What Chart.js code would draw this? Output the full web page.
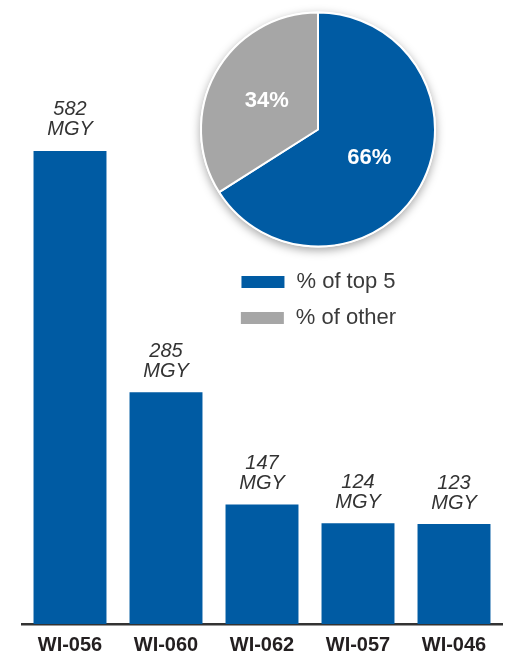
<!DOCTYPE html>
<html>
<head>
<meta charset="utf-8">
<script src="https://cdn.jsdelivr.net/npm/chart.js@4.4.1/dist/chart.umd.min.js"></script>
<style>
  body { margin: 0; background: #fff; }
  #wrap { position: relative; width: 507px; height: 656px; }
  #barChart { position: absolute; left: 0; top: 0; }
  #pieChart { position: absolute; left: 188px; top: 0; }
</style>
</head>
<body>
<div id="wrap">
  <canvas id="barChart" width="507" height="656"></canvas>
  <canvas id="pieChart" width="260" height="339"></canvas>
</div>
<script>
// top 5 wells by volume
var wells = ["WI-056", "WI-060", "WI-062", "WI-057", "WI-046"];
var volumes = [582, 285, 147, 124, 123];
var unitLabel = "MGY";

// share of total volume
var shareLabels = ["% of top 5", "% of other"];
var shares = [66, 34];

var blue = "#005ba3";
var gray = "#a6a6a6";
var fontFamily = "'Liberation Sans', Helvetica, Arial, sans-serif";

// value + unit written above each bar
var barLabels = {
  id: "barLabels",
  afterDatasetsDraw: function (chart) {
    var ctx = chart.ctx;
    var meta = chart.getDatasetMeta(0);
    ctx.save();
    ctx.fillStyle = "#333";
    ctx.font = "italic 20px " + fontFamily;
    ctx.textAlign = "center";
    ctx.textBaseline = "middle";
    meta.data.forEach(function (bar, i) {
      ctx.fillText(String(chart.data.datasets[0].data[i]), bar.x, bar.y - 41);
      ctx.fillText(unitLabel, bar.x, bar.y - 21);
    });
    ctx.restore();
  },
};

// soft drop shadow under the pie, drawn once behind the slices
var pieShadow = {
  id: "pieShadow",
  beforeDatasetsDraw: function (chart) {
    var arc = chart.getDatasetMeta(0).data[0];
    if (!arc) return;
    var ctx = chart.ctx;
    ctx.save();
    ctx.shadowColor = "rgba(0,0,0,0.35)";
    ctx.shadowBlur = 10;
    ctx.shadowOffsetY = 3;
    ctx.fillStyle = "#fff";
    ctx.beginPath();
    ctx.arc(arc.x, arc.y, arc.outerRadius + 1, 0, Math.PI * 2);
    ctx.fill();
    ctx.restore();
  },
};

// percentage written inside each slice
var pieLabels = {
  id: "pieLabels",
  afterDatasetsDraw: function (chart) {
    var ctx = chart.ctx;
    var meta = chart.getDatasetMeta(0);
    ctx.save();
    ctx.fillStyle = "#fff";
    ctx.font = "bold 22px " + fontFamily;
    ctx.textAlign = "center";
    ctx.textBaseline = "middle";
    meta.data.forEach(function (arc, i) {
      var mid = (arc.startAngle + arc.endAngle) / 2;
      var r = arc.outerRadius * 0.5;
      ctx.fillText(chart.data.datasets[0].data[i] + "%", arc.x + Math.cos(mid) * r, arc.y + Math.sin(mid) * r);
    });
    ctx.restore();
  },
};

var barCtx = document.getElementById("barChart").getContext("2d");
var barChart = new Chart(barCtx, {
  type: "bar",
  data: {
    labels: wells,
    datasets: [
      {
        data: volumes,
        backgroundColor: blue,
        borderWidth: 0,
        categoryPercentage: 1,
        barPercentage: 0.76,
      },
    ],
  },
  options: {
    responsive: false,
    animation: false,
    layout: { padding: { top: 55, left: 22, right: 5, bottom: -10 } },
    plugins: { legend: { display: false }, tooltip: { enabled: false } },
    scales: {
      x: {
        grid: { display: false, drawTicks: false },
        border: { display: true, color: "#333", width: 2.5 },
        ticks: {
          padding: 9,
          color: "#231f20",
          font: { family: fontFamily, size: 20, weight: "bold" },
        },
      },
      y: { display: false, min: 0, max: 700 },
    },
  },
  plugins: [barLabels],
});

var pieCtx = document.getElementById("pieChart").getContext("2d");
var pieChart = new Chart(pieCtx, {
  type: "pie",
  data: {
    labels: shareLabels,
    datasets: [
      {
        data: shares,
        backgroundColor: [blue, gray],
        borderColor: "#fff",
        borderWidth: 2,
      },
    ],
  },
  options: {
    responsive: false,
    animation: false,
    layout: { padding: { top: 2, left: 12, right: 12, bottom: 0 } },
    plugins: {
      tooltip: { enabled: false },
      legend: {
        position: "bottom",
        labels: {
          boxWidth: 45,
          boxHeight: 14,
          padding: 14,
          color: "#3a3a3a",
          font: { family: fontFamily, size: 22 },
        },
      },
    },
  },
  plugins: [pieShadow, pieLabels],
});
</script>
</body>
</html>
